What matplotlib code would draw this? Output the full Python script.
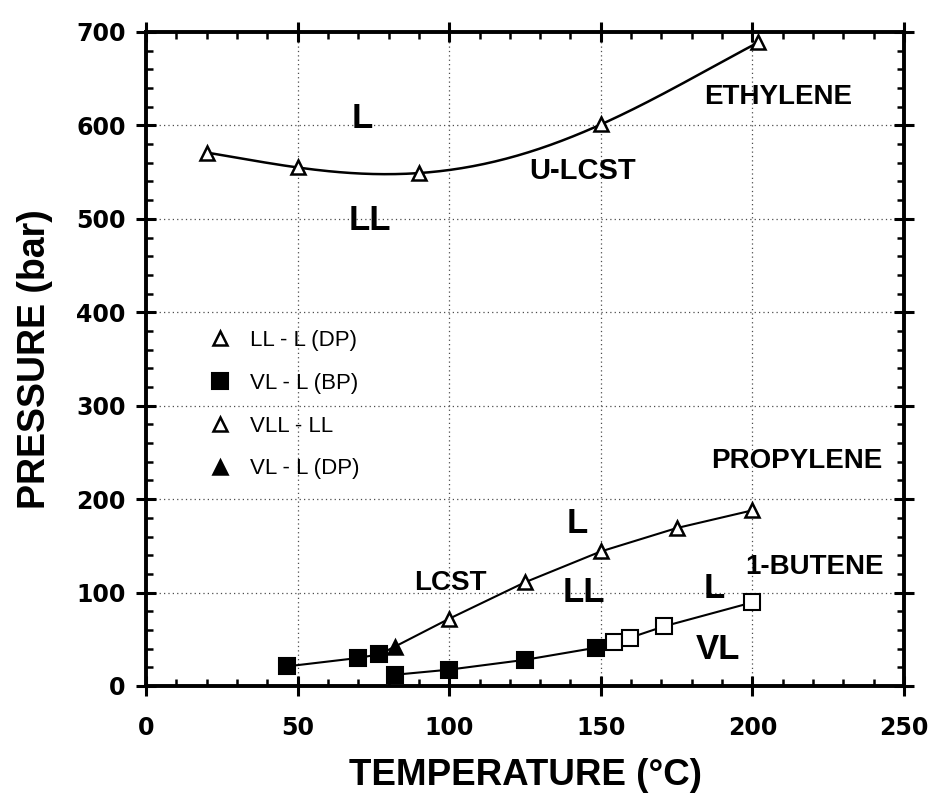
import matplotlib.pyplot as plt
import numpy as np

# ethylene: LL - L dew points
eth_t = [20, 50, 90, 150, 202]
eth_p = [571, 555, 549, 601, 689]

# propylene: VL - L bubble points, VL - L dew point, VLL - LL
pro_bp_t = [46.5, 70, 77]
pro_bp_p = [21, 30, 34]
pro_dp_t = [82]
pro_dp_p = [42]
pro_vll_t = [100, 125, 150, 175, 200]
pro_vll_p = [72, 111, 144, 169, 188]

# 1-butene: VL - L bubble points (filled) and open squares
but_bp_t = [82, 100, 125, 148.5]
but_bp_p = [12, 17.5, 28, 41]
but_open_t = [154.5, 159.5, 171, 200]
but_open_p = [47, 51.5, 64, 89.5]

xticks = [0, 50, 100, 150, 200, 250]
yticks = [0, 100, 200, 300, 400, 500, 600, 700]

plt.rcParams['font.family'] = ['Liberation Sans', 'DejaVu Sans']

fig = plt.figure(figsize=(9.37, 7.96), dpi=100)
ax = fig.add_axes([0.1558, 0.1382, 0.809, 0.8216])

# smooth curve through the ethylene points
coef = np.polyfit(eth_t, eth_p, 4)
tt = np.linspace(eth_t[0], eth_t[-1], 200)
ax.plot(tt, np.polyval(coef, tt), color='k', lw=1.8, zorder=2)

# propylene and 1-butene boundaries
ax.plot(pro_bp_t + pro_dp_t + pro_vll_t, pro_bp_p + pro_dp_p + pro_vll_p,
        color='k', lw=1.5, zorder=2)
ax.plot(but_bp_t + but_open_t, but_bp_p + but_open_p, color='k', lw=1.5, zorder=2)

tri = dict(marker='^', ms=9.5, mec='k', mew=1.8, ls='none', zorder=3)
sq = dict(marker='s', ms=11, mec='k', mew=1.5, ls='none', zorder=3)

h1, = ax.plot(eth_t, eth_p, mfc='white', label='LL - L (DP)', **tri)
h2, = ax.plot(pro_bp_t, pro_bp_p, mfc='k', label='VL - L (BP)', **sq)
ax.plot(but_bp_t, but_bp_p, mfc='k', **sq)
ax.plot(but_open_t, but_open_p, mfc='white', **sq)
h3, = ax.plot(pro_vll_t, pro_vll_p, mfc='white', label='VLL - LL', **tri)
h4, = ax.plot(pro_dp_t, pro_dp_p, mfc='k', label='VL - L (DP)', **tri)

leg = ax.legend(handles=[h1, h2, h3, h4], loc='upper left',
                bbox_to_anchor=(0.0714, 0.558), frameon=False, fontsize=16,
                labelspacing=0.98, handlelength=1.0, handletextpad=0.85,
                borderaxespad=0)

# region and compound labels
big = dict(fontsize=25, fontweight='bold', ha='center', va='center')
mid = dict(fontsize=20, fontweight='bold', ha='center', va='center')
ax.text(71.3, 607, 'L', **big)
ax.text(74, 498, 'LL', **big)
ax.text(144, 551, 'U-LCST', fontsize=21, fontweight='bold', ha='center', va='center')
ax.text(208.5, 630, 'ETHYLENE', **mid)
ax.text(214.5, 241, 'PROPYLENE', **mid)
ax.text(100.3, 110, 'LCST', **mid)
ax.text(142.3, 174, 'L', **big)
ax.text(144.5, 100, 'LL', **big)
ax.text(220.5, 127, '1-BUTENE', **mid)
ax.text(187.4, 104, 'L', **big)
ax.text(188.5, 39, 'VL', **big)

ax.set_xlim(0, 250)
ax.set_ylim(0, 700)
ax.set_xticks(xticks)
ax.set_yticks(yticks)
ax.set_xticks(np.arange(0, 251, 10), minor=True)
ax.set_yticks(np.arange(0, 701, 20), minor=True)
ax.tick_params(which='major', direction='inout', length=15, width=2.2,
               top=True, right=True)
ax.tick_params(axis='x', which='major', pad=14)
ax.tick_params(axis='y', which='major', pad=7)
ax.tick_params(which='minor', direction='in', length=5, width=1.8,
               top=True, right=True)
for lab in ax.get_xticklabels() + ax.get_yticklabels():
    lab.set_fontweight('bold')
    lab.set_fontfamily('DejaVu Sans')
    lab.set_fontsize(17)
for sp in ax.spines.values():
    sp.set_linewidth(2.8)

ax.grid(True, which='major', color='0.3', ls=(0, (1, 2.5)), lw=0.9)

ax.set_xlabel('TEMPERATURE (°C)', fontsize=26.5, fontweight='bold', labelpad=13)
ax.set_ylabel('PRESSURE (bar)', fontsize=27, fontweight='bold', labelpad=17)

fig.savefig('out.png', dpi=100)
